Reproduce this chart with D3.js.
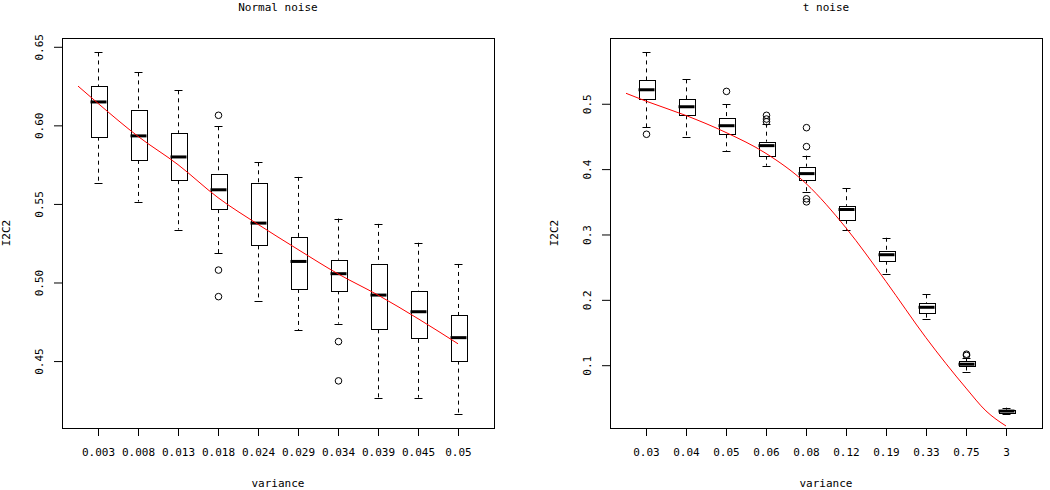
<!DOCTYPE html>
<html><head><meta charset="utf-8">
<script src="https://cdn.jsdelivr.net/npm/d3@7"></script>
<style>
html,body{margin:0;padding:0;background:#fff;}
svg text{font-family:"DejaVu Sans Mono",monospace;font-size:11px;fill:#000;}
</style></head>
<body><svg id="c" width="1050" height="490"></svg>
<script>
// ---- Left panel: Normal noise ----
const leftTitle = "Normal noise";
const leftCats = ["0.003","0.008","0.013","0.018","0.024","0.029","0.034","0.039","0.045","0.05"];
const leftLo  = [0.5636,0.5515,0.5337,0.5187,0.4880,0.4696,0.4738,0.4268,0.4268,0.4166];
const leftQ1  = [0.5928,0.5780,0.5651,0.5467,0.5236,0.4959,0.4950,0.4702,0.4641,0.4503];
const leftMed = [0.6149,0.5933,0.5799,0.5590,0.5378,0.5134,0.5056,0.4920,0.4814,0.4649];
const leftQ3  = [0.6250,0.6096,0.5952,0.5689,0.5632,0.5287,0.5145,0.5118,0.4943,0.4793];
const leftHi  = [0.6464,0.6337,0.6223,0.5994,0.5765,0.5672,0.5407,0.5373,0.5253,0.5118];
const leftOut = [[],[],[],[0.6064,0.5079,0.4910],[],[],[0.4624,0.4374],[],[],[]];
const leftYTicks = [0.45,0.50,0.55,0.60,0.65];
const leftYLabels = ["0.45","0.50","0.55","0.60","0.65"];
const leftRedPos = [0.5,1,2,3,4,5,6,7,8,9,10];
const leftRedVal = [0.625,0.614,0.593,0.575,0.554,0.537,0.521,0.5055,0.492,0.477,0.461];

// ---- Right panel: t noise ----
const rightTitle = "t noise";
const rightCats = ["0.03","0.04","0.05","0.06","0.08","0.12","0.19","0.33","0.75","3"];
const rightLo  = [0.4640,0.4496,0.4278,0.4053,0.3656,0.3072,0.2389,0.1702,0.0899,0.0260];
const rightQ1  = [0.5067,0.4823,0.4533,0.4206,0.3846,0.3224,0.2598,0.1789,0.0980,0.0273];
const rightMed = [0.5214,0.4954,0.4664,0.4359,0.3931,0.3382,0.2690,0.1886,0.1015,0.0298];
const rightQ3  = [0.5357,0.5067,0.4777,0.4420,0.4038,0.3438,0.2751,0.1947,0.1057,0.0319];
const rightHi  = [0.5785,0.5373,0.4995,0.4695,0.4206,0.3708,0.2950,0.2084,0.1107,0.0350];
const rightOut = [[0.4533],[],[0.5189],[0.4823,0.4766,0.4725],[0.4634,0.4344,0.3545,0.3499],[],[],[],[0.1168,0.1150],[]];
const rightYTicks = [0.1,0.2,0.3,0.4,0.5];
const rightYLabels = ["0.1","0.2","0.3","0.4","0.5"];
const rightRedPos = [0.5,1,2,3,4,5,6,7,8,9,9.5,10];
const rightRedVal = [0.516,0.504,0.482,0.456,0.424,0.378,0.310,0.228,0.142,0.065,0.030,0.007];

const xLabel = "variance";
const yLabel = "I2C2";

const svg = d3.select("#c");

function panel(cfg){
  const g = svg.append("g");
  const n = cfg.cats.length;
  const x = d3.scaleLinear().domain([0.5 - 0.04*n, n + 0.5 + 0.04*n]).range([cfg.x0, cfg.x1]);
  const all = cfg.lo.concat(cfg.hi, cfg.out.flat());
  const mn = d3.min(all), mx = d3.max(all), ext = (mx - mn)*0.04;
  const y = d3.scaleLinear().domain([mn - ext, mx + ext]).range([cfg.y1, cfg.y0]);
  const idx = d3.range(1, n+1);
  const boxW = x(1.4) - x(1);
  const capW = boxW/2;

  // whiskers, boxes, medians, outliers
  const wg = g.append("g").attr("stroke","#000").attr("stroke-width",1).attr("fill","none");
  idx.forEach((p,i)=>{
    const cx = Math.round(x(p)) + 0.5;
    wg.append("line").attr("x1",cx).attr("x2",cx).attr("y1",y(cfg.hi[i])).attr("y2",y(cfg.q3[i])).attr("stroke-dasharray","4,4");
    wg.append("line").attr("x1",cx).attr("x2",cx).attr("y1",y(cfg.q1[i])).attr("y2",y(cfg.lo[i])).attr("stroke-dasharray","4,4");
    wg.append("line").attr("x1",cx-capW/2).attr("x2",cx+capW/2).attr("y1",Math.round(y(cfg.hi[i]))+0.5).attr("y2",Math.round(y(cfg.hi[i]))+0.5);
    wg.append("line").attr("x1",cx-capW/2).attr("x2",cx+capW/2).attr("y1",Math.round(y(cfg.lo[i]))+0.5).attr("y2",Math.round(y(cfg.lo[i]))+0.5);
    wg.append("rect").attr("x",Math.round(cx-boxW/2)+0.5).attr("y",Math.round(y(cfg.q3[i]))+0.5)
      .attr("width",Math.round(boxW)).attr("height",Math.round(y(cfg.q1[i]) - y(cfg.q3[i])))
      .attr("fill","#fff");
    wg.append("line").attr("x1",cx-boxW/2).attr("x2",cx+boxW/2).attr("y1",y(cfg.med[i])).attr("y2",y(cfg.med[i])).attr("stroke-width",3);
    cfg.out[i].forEach(v=>{
      wg.append("circle").attr("cx",cx).attr("cy",y(v)).attr("r",3.3);
    });
  });

  // red line
  const line = d3.line().x(d=>x(d[0])).y(d=>y(d[1])).curve(d3.curveMonotoneX);
  g.append("path").datum(cfg.redPos.map((p,i)=>[p,cfg.redVal[i]]))
    .attr("d",line).attr("fill","none").attr("stroke","#ff0000").attr("stroke-width",1);

  // frame
  g.append("rect").attr("x",cfg.x0+0.5).attr("y",cfg.y0+0.5).attr("width",cfg.x1-cfg.x0).attr("height",cfg.y1-cfg.y0)
    .attr("fill","none").attr("stroke","#000").attr("stroke-width",1);

  // x axis
  const xa = g.append("g").attr("transform",`translate(0,${cfg.y1})`)
    .call(d3.axisBottom(x).tickValues(idx).tickFormat((d,i)=>cfg.cats[i]).tickSize(8).tickPadding(12));
  xa.select(".domain").remove();
  xa.selectAll("text").attr("font-family","DejaVu Sans Mono").attr("font-size",11).attr("fill","#000");
  xa.selectAll("line").attr("stroke","#000");

  // y axis
  const ya = g.append("g").attr("transform",`translate(${cfg.x0},0)`)
    .call(d3.axisLeft(y).tickValues(cfg.yTicks).tickFormat((d,i)=>cfg.yLabels[i]).tickSize(8));
  ya.select(".domain").remove();
  ya.selectAll("line").attr("stroke","#000");
  ya.selectAll("text").attr("font-family","DejaVu Sans Mono").attr("font-size",11).attr("fill","#000")
    .attr("x",null).attr("dy",null).attr("text-anchor","middle")
    .attr("transform",`translate(${cfg.yLabX - cfg.x0},0) rotate(-90)`);

  // titles
  const cx = (cfg.x0 + cfg.x1)/2;
  g.append("text").attr("x",cx).attr("y",11).attr("text-anchor","middle").text(cfg.title);
  g.append("text").attr("x",cx).attr("y",487).attr("text-anchor","middle").text(xLabel);
  g.append("text").attr("text-anchor","middle")
    .attr("transform",`translate(${cfg.yTitleX},${(cfg.y0+cfg.y1)/2}) rotate(-90)`).text(yLabel);
}

panel({title:leftTitle, cats:leftCats, lo:leftLo, q1:leftQ1, med:leftMed, q3:leftQ3, hi:leftHi, out:leftOut,
  yTicks:leftYTicks, yLabels:leftYLabels, redPos:leftRedPos, redVal:leftRedVal,
  x0:62, x1:494, y0:38, y1:428, yLabX:43, yTitleX:10});
panel({title:rightTitle, cats:rightCats, lo:rightLo, q1:rightQ1, med:rightMed, q3:rightQ3, hi:rightHi, out:rightOut,
  yTicks:rightYTicks, yLabels:rightYLabels, redPos:rightRedPos, redVal:rightRedVal,
  x0:610, x1:1042, y0:38, y1:428, yLabX:591, yTitleX:558});
</script></body></html>
